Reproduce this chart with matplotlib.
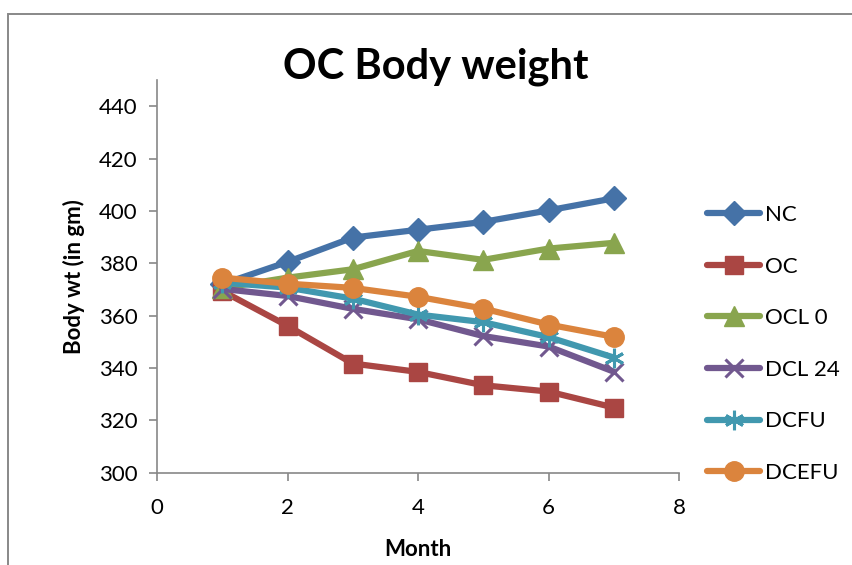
import matplotlib
matplotlib.use("Agg")
import matplotlib.pyplot as plt
from matplotlib.patches import Rectangle

plt.rcParams['font.family'] = ['Lato', 'DejaVu Sans']

months = [1, 2, 3, 4, 5, 6, 7]
nc = [372, 380.5, 389.8, 392.8, 395.8, 400.2, 404.8]
oc = [369.4, 356.1, 341.7, 338.5, 333.4, 331.0, 324.9]
ocl0 = [370.5, 374.5, 377.7, 384.7, 381.3, 385.6, 387.8]
dcl24 = [370.2, 367.5, 362.6, 358.6, 352.2, 348.2, 338.6]
dcfu = [372.6, 370.7, 366.5, 360.4, 357.5, 351.8, 344.0]
dcefu = [374.5, 372.2, 370.6, 367.2, 362.7, 356.6, 351.9]

series = [
    ("NC", nc, "#4572A7", "D", 12, 1),
    ("OC", oc, "#AA4643", "s", 13, 1),
    ("OCL 0", ocl0, "#89A54E", "^", 14, 1),
    ("DCL 24", dcl24, "#71588F", "x", 13, 2.2),
    ("DCFU", dcfu, "#4198AF", (6, 2, 0), 14, 2.2),
    ("DCEFU", dcefu, "#DB843D", "o", 14, 1),
]

fig = plt.figure(figsize=(8.52, 5.65), dpi=100)
fig.patch.set_facecolor("white")

# outer chart frame
fig.patches.append(Rectangle((8/852, -0.1), 1.2, 1 - 14/565 + 0.1,
                             transform=fig.transFigure, fill=False,
                             edgecolor="#888888", linewidth=1.4))

ax = fig.add_axes([157/852, 1 - 472.7/565, (679 - 157)/852, (472.7 - 80)/565])
for name, vals, col, mk, ms, mew in series:
    ax.plot(months, vals, color=col, linewidth=4.5, marker=mk, markersize=ms,
            markerfacecolor=col, markeredgecolor=col, markeredgewidth=mew,
            label=name, solid_capstyle="round")

ax.set_xlim(0, 8)
ax.set_ylim(300, 450)
ax.set_xticks([0, 2, 4, 6, 8])
ax.set_yticks(range(300, 441, 20))
ax.spines["top"].set_visible(False)
ax.spines["right"].set_visible(False)
for s in ["left", "bottom"]:
    ax.spines[s].set_color("#888888")
    ax.spines[s].set_linewidth(1.2)
ax.tick_params(axis="both", labelsize=16, color="#888888", length=6, width=1.2, pad=8)
ax.tick_params(axis="x", pad=12)

ax.set_xlabel("Month", fontsize=16, fontweight="bold", labelpad=15)
ax.set_ylabel("Body wt (in gm)", fontsize=16, fontweight="bold", labelpad=10)

fig.text(436/852, 1 - 67/565, "OC Body weight", fontsize=30, fontweight="bold",
         ha="center", va="center")

fig.legend(loc="center left", bbox_to_anchor=(698/852, 1 - 344/565),
           frameon=False, fontsize=16, handlelength=2.4, handletextpad=0.2,
           labelspacing=1.42, borderaxespad=0)

fig.savefig("out.png", dpi=100, facecolor="white")
